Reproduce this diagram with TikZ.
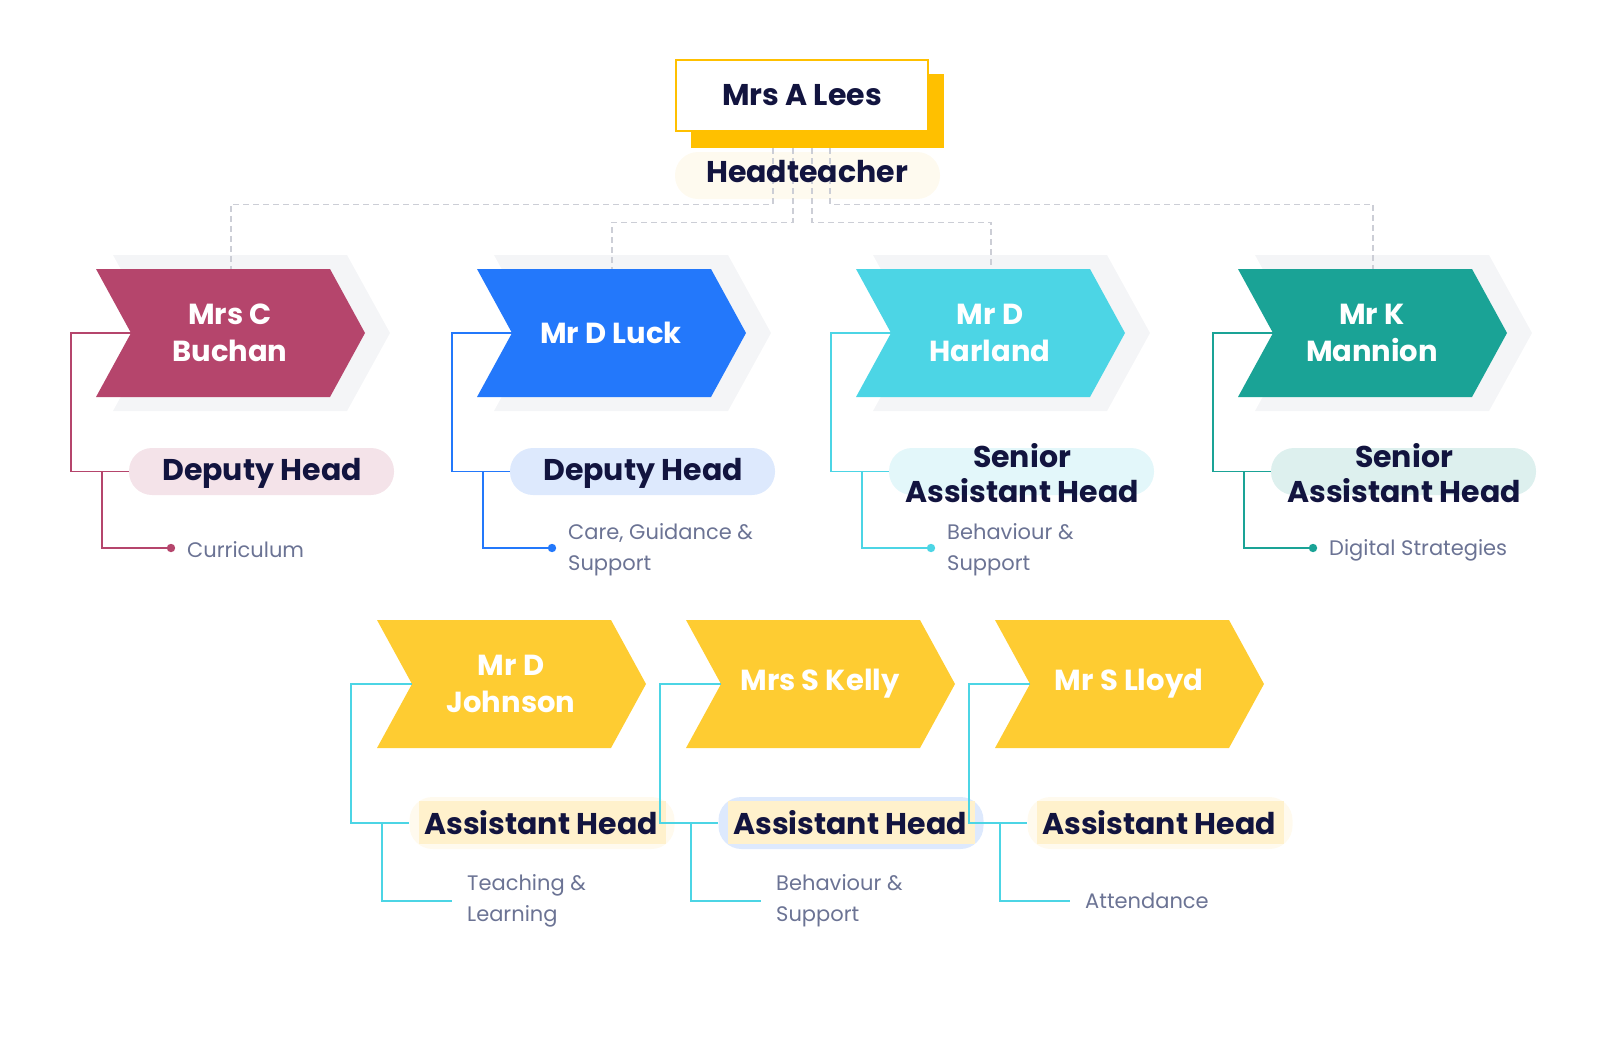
\documentclass[tikz,border=0pt]{standalone}
\usepackage{fontspec}
\setmainfont{Poppins}
\definecolor{navy}{HTML}{12143F}
\definecolor{subgray}{HTML}{6B7394}
\definecolor{hy}{HTML}{FFC000}
\definecolor{hpill}{HTML}{FEFAEF}
\definecolor{shgray}{HTML}{F4F5F7}
\definecolor{dashgray}{HTML}{CCCED6}
\definecolor{cpink}{HTML}{B5456C}
\definecolor{cblue}{HTML}{2378FB}
\definecolor{ccyan}{HTML}{4CD5E5}
\definecolor{cteal}{HTML}{1AA396}
\definecolor{cyel}{HTML}{FECC32}
\definecolor{ppink}{HTML}{F4E3E9}
\definecolor{pblue}{HTML}{DDE9FD}
\definecolor{pcyan}{HTML}{E3F7FA}
\definecolor{pteal}{HTML}{DDF0EE}
\definecolor{pcream}{HTML}{FFFAEE}
\definecolor{rcream}{HTML}{FFF1CC}
\tikzset{
  namet/.style={text=white, font=\bfseries\fontsize{29}{37}\selectfont, align=center, inner sep=0pt},
  rolet/.style={text=navy, font=\bfseries\fontsize{30}{35}\selectfont, align=center, inner sep=0pt},
  subt/.style={text=subgray, font=\fontsize{21}{31}\selectfont, align=left, anchor=west, inner sep=0pt},
  pillbox/.style={rectangle, rounded corners=23pt, minimum width=265pt, inner sep=0pt, draw=none},
  hlbox/.style={rectangle, fill=rcream, minimum width=247pt, minimum height=43pt, inner sep=0pt},
  conn/.style={line width=1.3pt},
  dashline/.style={draw=dashgray, line width=1.3pt, dash pattern=on 6pt off 4pt},
}
% chevron body: #1 x, #2 y, #3 colour, #4 name
\newcommand\chevbody[4]{%
  \fill[#3] (#1,#2) -- ++(234,0) -- ++(35,64) -- ++(-35,64) -- ++(-234,0) -- ++(35,-64) -- cycle;
  \coordinate (#4-n) at ({#1+35},{#2+64});
  \coordinate (#4-t) at ({#1+135},#2);
}
% row one, background part: #1 x, #2 colour, #3 pill colour, #4 id
\newcommand\rowAbg[4]{%
  \fill[shgray] ({#1+17},255) -- ++(234,0) -- ++(43,78) -- ++(-43,78) -- ++(-234,0) -- ++(43,-78) -- cycle;
  \chevbody{#1}{269}{#2}{#4}
  \node[pillbox, fill=#3, minimum height=47pt] (#4-p) at ({#1+165.5},471.5) {};
  \coordinate (#4-b) at ({#1+6},471.5);
  \coordinate (#4-d) at ({#1+75},548);
}
% row one, foreground: #1 x, #2 colour, #3 id, #4 name, #5 role, #6 sub
\newcommand\rowAfg[6]{%
  \draw[#2, conn] (#3-n) -- ++(-60,0) |- (#3-p.west);
  \draw[#2, conn] (#3-b) |- (#3-d);
  \fill[#2] (#3-d) circle (4.2);
  \node[namet] (#3) at ({#1+134},333) {#4};
  \node[rolet] (#3-r) at ({#1+166},473) {#5};
  \node[subt] (#3-s) at ({#1+91},550) {#6};
}
% row two background: #1 x, #2 pill colour, #3 id
\newcommand\rowBbg[3]{%
  \chevbody{#1}{620}{cyel}{#3}
  \node[pillbox, fill=#2, minimum height=52pt] (#3-p) at ({#1+165},823) {};
  \node[hlbox] (#3-h) at ({#1+165.5},822.5) {};
  \coordinate (#3-b) at ({#1+5},823);
  \coordinate (#3-d) at ({#1+75},901);
}
% row two foreground: #1 x, #2 id, #3 name, #4 sub
\newcommand\rowBfg[4]{%
  \draw[ccyan, conn] (#2-n) -- ++(-61,0) |- (#2-p.west);
  \draw[ccyan, conn] (#2-b) |- (#2-d);
  \node[namet] (#2) at ({#1+134},683.5) {#3};
  \node[rolet] (#2-r) at ({#1+164},823) {#4};
}
\begin{document}
\begin{tikzpicture}[x=1pt,y=-1pt]
\useasboundingbox (0,0) rectangle (1607,1042);
% head
\node[rectangle, fill=hy, minimum width=253pt, minimum height=74pt, inner sep=0pt] (headsh) at (817.5,111) {};
\node[rectangle, fill=white, draw=hy, line width=2pt, minimum width=252pt, minimum height=71pt, inner sep=0pt] (head) at (802,95.5) {};
\node[pillbox, fill=hpill, minimum height=47pt] (htp) at (807.5,175.5) {};
% row one backgrounds
\rowAbg{96}{cpink}{ppink}{buchan}
\rowAbg{477}{cblue}{pblue}{luck}
\rowAbg{856}{ccyan}{pcyan}{harland}
\rowAbg{1238}{cteal}{pteal}{mannion}
% dashed links
\draw[dashline] ([xshift=-44.5pt]headsh.south) -- ++(0,56) -| (buchan-t);
\draw[dashline] ([xshift=-24.5pt]headsh.south) -- ++(0,74) -| (luck-t);
\draw[dashline] ([xshift=-5.5pt]headsh.south) -- ++(0,74) -| (harland-t);
\draw[dashline] ([xshift=12.5pt]headsh.south) -- ++(0,56) -| (mannion-t);
\node[text=navy, font=\bfseries\fontsize{30}{35}\selectfont, inner sep=0pt] (headname) at (head.center) {Mrs A Lees};
\node[rolet] (headrole) at (807,172) {Headteacher};
% row one foregrounds
\rowAfg{96}{cpink}{buchan}{Mrs C\\Buchan}{Deputy Head}{Curriculum}
\rowAfg{477}{cblue}{luck}{Mr D Luck}{Deputy Head}{Care, Guidance \&\\Support}
\rowAfg{856}{ccyan}{harland}{Mr D\\Harland}{Senior\\Assistant Head}{Behaviour \&\\Support}
\rowAfg{1238}{cteal}{mannion}{Mr K\\Mannion}{Senior\\Assistant Head}{Digital Strategies}
% row two
\rowBbg{377}{pcream}{johnson}
\rowBbg{686}{pblue}{kelly}
\rowBbg{995}{pcream}{lloyd}
\rowBfg{377}{johnson}{Mr D\\Johnson}{Assistant Head}
\rowBfg{686}{kelly}{Mrs S Kelly}{Assistant Head}
\rowBfg{995}{lloyd}{Mr S Lloyd}{Assistant Head}
\node[subt] (johnson-s) at (467,901) {Teaching \&\\Learning};
\node[subt] (kelly-s) at (776,901) {Behaviour \&\\Support};
\node[subt] (lloyd-s) at (1085,901) {Attendance};
\end{tikzpicture}
\end{document}
